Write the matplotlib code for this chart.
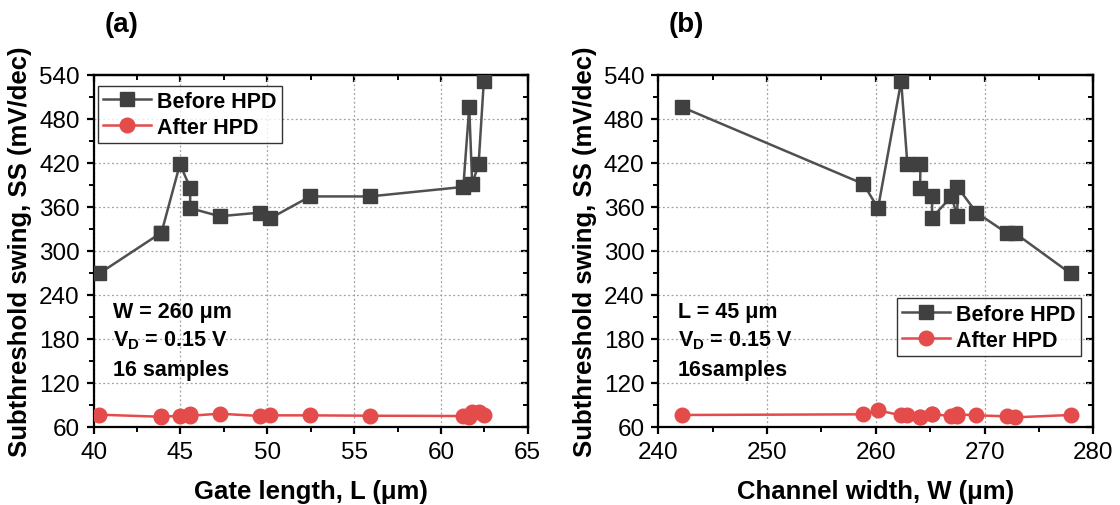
import matplotlib
matplotlib.use("Agg")
import matplotlib.pyplot as plt
from matplotlib.ticker import MultipleLocator

plt.rcParams['font.family'] = ['Liberation Sans', 'DejaVu Sans']
plt.rcParams['mathtext.fontset'] = 'custom'
plt.rcParams['mathtext.rm'] = 'Liberation Sans:bold'
plt.rcParams['mathtext.bf'] = 'Liberation Sans:bold'
plt.rcParams['mathtext.it'] = 'Liberation Sans:bold'

# Panel (a): SS vs gate length
L_a = [40.33, 43.86, 43.90, 44.97, 45.56, 45.56, 47.26, 49.60, 50.16, 52.47, 55.90,
       61.29, 61.63, 61.80, 62.17, 62.47]
before_a = [269, 324, 324, 418, 386, 358, 347, 352, 344, 374, 374, 387, 496, 391, 418, 531]
after_a = [76.4, 73.6, 74.0, 74.6, 76.9, 75.0, 77.7, 74.6, 75.5, 75.5, 75.0,
           74.6, 73.0, 80.0, 80.5, 75.5]

# Panel (b): SS vs channel width
W_b = [242.15, 258.86, 260.20, 262.33, 262.90, 264.10, 264.07, 265.17, 265.17, 266.95,
       267.50, 267.50, 269.25, 272.05, 272.80, 277.90]
before_b = [496, 391, 358, 531, 418, 418, 386, 374, 345, 374, 347, 387, 352, 324, 324, 269]
after_b = [76.0, 76.9, 82.3, 75.5, 75.5, 73.2, 73.5, 77.7, 77.0, 74.6, 74.6, 76.9,
           75.5, 74.2, 72.8, 76.0]

y_ticks = [60, 120, 180, 240, 300, 360, 420, 480, 540]

gray = '#404040'
gray_line = '#505050'
red = '#E44B4B'

fig = plt.figure(figsize=(11.2, 5.06), dpi=100)
ax_a = fig.add_axes([0.0836, 0.1547, 0.3876, 0.6957])
ax_b = fig.add_axes([0.5878, 0.1547, 0.3884, 0.6957])

TICK_FS = 17.5
LABEL_FS = 18.5
LEG_FS = 15.5
ANN_FS = 15.5
TITLE_FS = 20


def style(ax, xlim, xmaj, xmin):
    ax.set_xlim(*xlim)
    ax.set_ylim(60, 540)
    ax.set_yticks(y_ticks)
    ax.xaxis.set_major_locator(MultipleLocator(xmaj))
    ax.xaxis.set_minor_locator(MultipleLocator(xmin))
    ax.yaxis.set_minor_locator(MultipleLocator(30))
    ax.grid(True, which='major', color='#A0A0A0', linestyle=(0, (1.5, 2)), linewidth=0.9)
    ax.set_axisbelow(True)
    for s in ax.spines.values():
        s.set_linewidth(1.6)
        s.set_color('black')
    ax.tick_params(axis='both', which='major', direction='out', length=5, width=1.6,
                   labelsize=TICK_FS, pad=5)
    ax.tick_params(axis='both', which='minor', direction='out', length=3.5, width=1.4)
    sx = ax.secondary_xaxis('top')
    sx.set_xticks(ax.get_xticks())
    sx.xaxis.set_minor_locator(MultipleLocator(xmin))
    sx.tick_params(which='major', direction='in', length=5, width=1.6, labeltop=False)
    sx.tick_params(which='minor', direction='in', length=3.5, width=1.4)
    sx.spines['top'].set_linewidth(1.6)
    sy = ax.secondary_yaxis('right')
    sy.set_yticks(y_ticks)
    sy.yaxis.set_minor_locator(MultipleLocator(30))
    sy.tick_params(which='major', direction='in', length=5, width=1.6, labelright=False)
    sy.tick_params(which='minor', direction='in', length=3.5, width=1.4)
    sy.spines['right'].set_linewidth(1.6)
    ax.set_ylabel('Subthreshold swing, SS (mV/dec)', fontsize=LABEL_FS, fontweight='bold',
                  labelpad=5)


def plot_series(ax, x, b, a):
    ax.plot(x, b, '-s', color=gray_line, markerfacecolor=gray, markeredgecolor=gray,
            markersize=10, linewidth=1.8, label='Before HPD', zorder=3)
    ax.plot(x, a, '-o', color=red, markerfacecolor=red, markeredgecolor=red,
            markersize=10.5, linewidth=1.8, label='After HPD', zorder=3)


def legend(ax, loc, anchor):
    lg = ax.legend(loc=loc, bbox_to_anchor=anchor, prop={'weight': 'bold', 'size': LEG_FS},
                   frameon=True, fancybox=False, edgecolor='black', handlelength=2.2,
                   handletextpad=0.3, borderpad=0.25, labelspacing=0.22, borderaxespad=0.0)
    lg.get_frame().set_linewidth(1.0)
    return lg


def notes(ax, first):
    ax.text(0.045, 0.327, first, transform=ax.transAxes, fontsize=ANN_FS,
            fontweight='bold', va='center')
    ax.text(0.045, 0.248, r'V$_{\mathrm{D}}$ = 0.15 V', transform=ax.transAxes,
            fontsize=ANN_FS, fontweight='bold', va='center')


plot_series(ax_a, L_a, before_a, after_a)
style(ax_a, (40, 65), 5, 2.5)
ax_a.set_xlabel('Gate length, L (μm)', fontsize=LABEL_FS, fontweight='bold', labelpad=12)
legend(ax_a, 'upper left', (0.01, 0.969))
notes(ax_a, 'W = 260 μm')
ax_a.text(0.045, 0.162, '16 samples', transform=ax_a.transAxes, fontsize=ANN_FS,
          fontweight='bold', va='center')
fig.text(0.1085, 0.95, '(a)', fontsize=TITLE_FS, fontweight='bold', ha='center', va='center')

plot_series(ax_b, W_b, before_b, after_b)
style(ax_b, (240, 280), 10, 5)
ax_b.set_xlabel('Channel width, W (μm)', fontsize=LABEL_FS, fontweight='bold', labelpad=12)
legend(ax_b, 'lower right', (0.972, 0.201))
notes(ax_b, 'L = 45 μm')
ax_b.text(0.045, 0.162, '16samples', transform=ax_b.transAxes, fontsize=ANN_FS,
          fontweight='bold', va='center')
fig.text(0.6125, 0.95, '(b)', fontsize=TITLE_FS, fontweight='bold', ha='center', va='center')

fig.savefig('out.png', dpi=100)
